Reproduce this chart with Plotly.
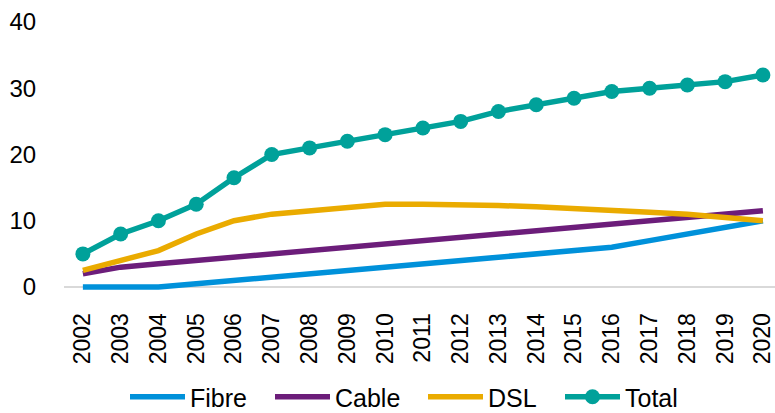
import plotly.graph_objects as go

years = [str(y) for y in range(2002, 2021)]
fibre = [0, 0, 0, 0.5, 1, 1.5, 2, 2.5, 3, 3.5, 4, 4.5, 5, 5.5, 6, 7, 8, 9, 10]
cable = [2, 3, 3.5, 4, 4.5, 5, 5.5, 6, 6.5, 7, 7.5, 8, 8.5, 9, 9.5, 10, 10.5, 11, 11.5]
dsl = [2.5, 4, 5.5, 8, 10, 11, 11.5, 12, 12.5, 12.5, 12.5, 12.3, 12.1, 11.9, 11.5, 11.3, 11, 10.5, 10]
total = [5, 8, 10, 12.5, 16.5, 20, 21, 22, 23, 24, 25, 26.5, 27.5, 28.5, 29.5, 30, 30.5, 31, 32]

colors = {"Fibre": "#0091DA", "Cable": "#6C1D7A", "DSL": "#EAAB00", "Total": "#00A19A"}
legend_ids = {"Fibre": "legend", "Cable": "legend2", "DSL": "legend3", "Total": "legend4"}
legend_x = {"Fibre": 125, "Cable": 270, "DSL": 423, "Total": 560}

fig = go.Figure()
for name, vals in [("Fibre", fibre), ("Cable", cable), ("DSL", dsl)]:
    fig.add_trace(go.Scatter(x=years, y=vals, name=name, mode="lines", legend=legend_ids[name],
                             line=dict(color=colors[name], width=5.5)))
fig.add_trace(go.Scatter(x=years, y=total, name="Total", mode="lines+markers", legend="legend4",
                         line=dict(color=colors["Total"], width=5.5),
                         marker=dict(color=colors["Total"], size=15)))

font = "Liberation Sans, Arial, sans-serif"
leg = {}
for name, lid in legend_ids.items():
    leg[lid] = dict(orientation="h", xref="container", yref="container",
                    x=legend_x[name] / 775, xanchor="left", y=16 / 413, yanchor="middle",
                    font=dict(size=25), itemwidth=55, bgcolor="rgba(0,0,0,0)")

fig.update_layout(
    width=775, height=413,
    margin=dict(l=64, r=0, t=22, b=122, autoexpand=False),
    paper_bgcolor="white", plot_bgcolor="white",
    font=dict(family=font, size=23, color="black"),
    showlegend=True,
    xaxis=dict(type="category", range=[-0.5, 18.32], showgrid=False, zeroline=False,
               tickangle=-90, showline=False, ticks="outside", ticklen=12, tickcolor="rgba(0,0,0,0)",
               tickfont=dict(size=23), automargin=False),
    yaxis=dict(range=[-0.6, 40], tickvals=[0, 10, 20, 30, 40], showgrid=False,
               zeroline=True, zerolinecolor="#D9D9D9", zerolinewidth=2, automargin=False,
               ticks="outside", ticklen=22, tickcolor="rgba(0,0,0,0)", tickfont=dict(size=24)),
    **leg,
)
fig.write_html("out.html")
